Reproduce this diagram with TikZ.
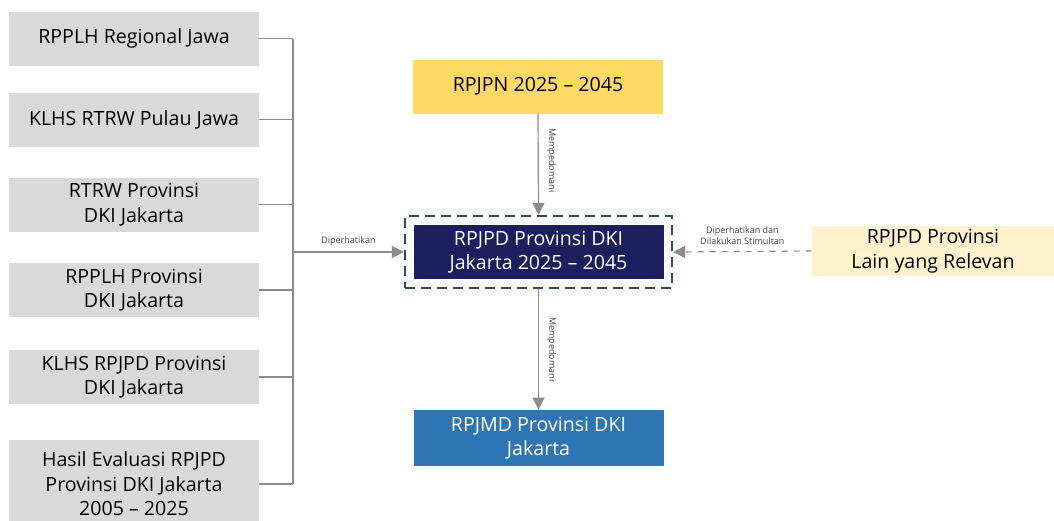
\documentclass[tikz,border=0pt]{standalone}
\usepackage{fontspec}
\setmainfont{Open Sans}
\usetikzlibrary{arrows.meta}
\definecolor{boxgray}{HTML}{D9D9D9}
\definecolor{navy}{HTML}{1C1F5E}
\definecolor{docblue}{HTML}{2E75B6}
\definecolor{gold}{HTML}{FFD966}
\definecolor{cream}{HTML}{FFF2CC}
\definecolor{frameblue}{HTML}{2F4B6C}
\definecolor{linegray}{HTML}{8C8C8C}
\begin{document}
\begin{tikzpicture}[x=0.5pt, y=-0.5pt,
  docbox/.style={inner sep=0pt, align=center, font=\fontsize{9.8}{12.2}\selectfont},
  leftdoc/.style={docbox, fill=boxgray, minimum width=125pt, minimum height=27pt},
  middoc/.style={docbox, minimum width=125pt, minimum height=27pt},
  conn/.style={draw=linegray, line width=0.6pt},
  arr/.style={conn, -{Triangle[length=6pt, width=6pt]}},
  tag/.style={font=\fontsize{4.5}{5.5}\selectfont, text=black!75, align=center, inner sep=1pt}]
  \useasboundingbox (0,0) rectangle (1054,520);

  % dokumen kiri
  \node[leftdoc] (b1) at (134,38.5) {RPPLH Regional Jawa};
  \node[leftdoc] (b2) at (134,119.5) {KLHS RTRW Pulau Jawa};
  \node[leftdoc] (b3) at (134,204.5) {RTRW Provinsi\\DKI Jakarta};
  \node[leftdoc] (b4) at (134,290) {RPPLH Provinsi\\DKI Jakarta};
  \node[leftdoc] (b5) at (134,377) {KLHS RPJPD Provinsi\\DKI Jakarta};
  \node[leftdoc, minimum height=44pt] (b6) at (134,484) {Hasil Evaluasi RPJPD\\Provinsi DKI Jakarta\\2005 -- 2025};

  % dokumen tengah
  \node[middoc, fill=gold] (rpjpn) at (538,86.5) {RPJPN 2025 -- 2045};
  \node[middoc, fill=navy, text=white] (rpjpd) at (538.5,252) {RPJPD Provinsi DKI\\Jakarta 2025 -- 2045};
  \node[draw=frameblue, line width=1.1pt, dash pattern=on 5pt off 3pt,
    minimum width=133.5pt, minimum height=36pt] (frame) at (538.5,252) {};
  \node[middoc, fill=docblue, text=white, minimum height=28pt] (rpjmd) at (538.5,438) {RPJMD Provinsi DKI\\Jakarta};
  \node[docbox, fill=cream, minimum width=121pt, minimum height=25pt] (lain) at (933,251) {RPJPD Provinsi\\Lain yang Relevan};

  % garis kumpul
  \coordinate (bus) at (293,0);
  \foreach \i in {1,...,6}
    \draw[conn] (b\i.east) -- (b\i.east -| bus);
  \draw[conn] (b1.east -| bus) -- (b6.east -| bus);

  % panah
  \draw[arr] (bus |- frame.west) -- node[tag, above=2pt] {Diperhatikan} (frame.west);
  \draw[arr] (rpjpn.south) -- node[tag, rotate=-90, anchor=south, xshift=-2pt, yshift=3pt] {Mempedomani} (frame.north);
  \draw[arr] (frame.south) -- node[tag, rotate=-90, anchor=south, yshift=3pt] {Mempedomani} (rpjmd.north);
  \draw[arr, dashed] (lain.west) -- node[tag, above=2pt] {Diperhatikan dan\\Dilakukan Stimultan} (frame.east);
\end{tikzpicture}
\end{document}
